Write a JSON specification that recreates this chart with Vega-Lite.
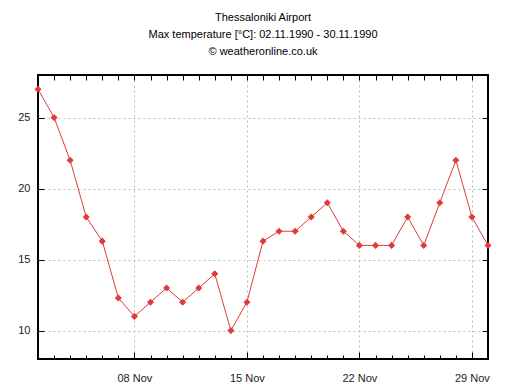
{
  "$schema": "https://vega.github.io/schema/vega-lite/v6.json",
  "autosize": "none",
  "width": 450,
  "height": 284,
  "padding": {"left": 38, "top": 75, "right": 32, "bottom": 31},
  "background": "white",
  "config": {
    "font": "Liberation Sans",
    "view": {"stroke": "#000", "strokeWidth": 2},
    "axis": {"domain": false, "labelFont": "Liberation Sans", "labelFontSize": 11, "labelColor": "#222", "tickColor": "#000", "gridColor": "#bbb", "gridDash": [2, 3], "title": null}
  },
  "title": {
    "text": ["Thessaloniki Airport", "Max temperature [°C]: 02.11.1990 - 30.11.1990", "© weatheronline.co.uk"],
    "fontSize": 11,
    "fontWeight": "normal",
    "font": "Liberation Sans",
    "color": "#000",
    "lineHeight": 17,
    "anchor": "middle",
    "frame": "group",
    "offset": 18
  },
  "data": {
    "values": [
      {"date": "1990-11-02T00:00:00", "temp": 27},
      {"date": "1990-11-03T00:00:00", "temp": 25},
      {"date": "1990-11-04T00:00:00", "temp": 22},
      {"date": "1990-11-05T00:00:00", "temp": 18},
      {"date": "1990-11-06T00:00:00", "temp": 16.3},
      {"date": "1990-11-07T00:00:00", "temp": 12.3},
      {"date": "1990-11-08T00:00:00", "temp": 11},
      {"date": "1990-11-09T00:00:00", "temp": 12},
      {"date": "1990-11-10T00:00:00", "temp": 13},
      {"date": "1990-11-11T00:00:00", "temp": 12},
      {"date": "1990-11-12T00:00:00", "temp": 13},
      {"date": "1990-11-13T00:00:00", "temp": 14},
      {"date": "1990-11-14T00:00:00", "temp": 10},
      {"date": "1990-11-15T00:00:00", "temp": 12},
      {"date": "1990-11-16T00:00:00", "temp": 16.3},
      {"date": "1990-11-17T00:00:00", "temp": 17},
      {"date": "1990-11-18T00:00:00", "temp": 17},
      {"date": "1990-11-19T00:00:00", "temp": 18},
      {"date": "1990-11-20T00:00:00", "temp": 19},
      {"date": "1990-11-21T00:00:00", "temp": 17},
      {"date": "1990-11-22T00:00:00", "temp": 16},
      {"date": "1990-11-23T00:00:00", "temp": 16},
      {"date": "1990-11-24T00:00:00", "temp": 16},
      {"date": "1990-11-25T00:00:00", "temp": 18},
      {"date": "1990-11-26T00:00:00", "temp": 16},
      {"date": "1990-11-27T00:00:00", "temp": 19},
      {"date": "1990-11-28T00:00:00", "temp": 22},
      {"date": "1990-11-29T00:00:00", "temp": 18},
      {"date": "1990-11-30T00:00:00", "temp": 16}
    ]
  },
  "resolve": {"axis": {"x": "independent", "y": "independent"}},
  "layer": [
    {
      "mark": {"type": "line", "color": "#e03a3a", "strokeWidth": 1, "point": {"shape": "diamond", "size": 50, "color": "#e03a3a", "filled": true, "opacity": 1}},
      "encoding": {
        "x": {
          "field": "date", "type": "temporal",
          "scale": {"domain": [{"year": 1990, "month": 11, "date": 2}, {"year": 1990, "month": 11, "date": 30}]},
          "axis": {
            "orient": "bottom",
            "values": [
              {"year": 1990, "month": 11, "date": 2}, {"year": 1990, "month": 11, "date": 3}, {"year": 1990, "month": 11, "date": 4},
              {"year": 1990, "month": 11, "date": 5}, {"year": 1990, "month": 11, "date": 6}, {"year": 1990, "month": 11, "date": 7},
              {"year": 1990, "month": 11, "date": 8}, {"year": 1990, "month": 11, "date": 9}, {"year": 1990, "month": 11, "date": 10},
              {"year": 1990, "month": 11, "date": 11}, {"year": 1990, "month": 11, "date": 12}, {"year": 1990, "month": 11, "date": 13},
              {"year": 1990, "month": 11, "date": 14}, {"year": 1990, "month": 11, "date": 15}, {"year": 1990, "month": 11, "date": 16},
              {"year": 1990, "month": 11, "date": 17}, {"year": 1990, "month": 11, "date": 18}, {"year": 1990, "month": 11, "date": 19},
              {"year": 1990, "month": 11, "date": 20}, {"year": 1990, "month": 11, "date": 21}, {"year": 1990, "month": 11, "date": 22},
              {"year": 1990, "month": 11, "date": 23}, {"year": 1990, "month": 11, "date": 24}, {"year": 1990, "month": 11, "date": 25},
              {"year": 1990, "month": 11, "date": 26}, {"year": 1990, "month": 11, "date": 27}, {"year": 1990, "month": 11, "date": 28},
              {"year": 1990, "month": 11, "date": 29}, {"year": 1990, "month": 11, "date": 30}
            ],
            "labelExpr": "indexof([8,15,22,29], date(datum.value)) >= 0 ? timeFormat(datum.value, '%d %b') : ''",
            "labelOverlap": false,
            "labelFlush": false,
            "grid": true,
            "gridOpacity": {"condition": {"test": "indexof([8,15,22,29], date(datum.value)) >= 0", "value": 1}, "value": 0},
            "tickSize": {"condition": {"test": "indexof([8,15,22,29], date(datum.value)) >= 0", "value": -7}, "value": -4},
            "labelPadding": {"condition": {"test": "indexof([8,15,22,29], date(datum.value)) >= 0", "value": 20}, "value": 17}
          }
        },
        "y": {
          "field": "temp", "type": "quantitative",
          "scale": {"domain": [8, 28], "nice": false, "zero": false},
          "axis": {"orient": "left", "values": [10, 15, 20, 25], "tickSize": -6, "labelPadding": 14, "grid": true}
        }
      }
    },
    {
      "mark": {"type": "line", "opacity": 0},
      "encoding": {
        "x": {
          "field": "date", "type": "temporal",
          "axis": {
            "orient": "top", "labels": false, "grid": false, "tickSize": -5,
            "values": [
              {"year": 1990, "month": 11, "date": 3}, {"year": 1990, "month": 11, "date": 4},
              {"year": 1990, "month": 11, "date": 5}, {"year": 1990, "month": 11, "date": 6}, {"year": 1990, "month": 11, "date": 7},
              {"year": 1990, "month": 11, "date": 8}, {"year": 1990, "month": 11, "date": 9}, {"year": 1990, "month": 11, "date": 10},
              {"year": 1990, "month": 11, "date": 11}, {"year": 1990, "month": 11, "date": 12}, {"year": 1990, "month": 11, "date": 13},
              {"year": 1990, "month": 11, "date": 14}, {"year": 1990, "month": 11, "date": 15}, {"year": 1990, "month": 11, "date": 16},
              {"year": 1990, "month": 11, "date": 17}, {"year": 1990, "month": 11, "date": 18}, {"year": 1990, "month": 11, "date": 19},
              {"year": 1990, "month": 11, "date": 20}, {"year": 1990, "month": 11, "date": 21}, {"year": 1990, "month": 11, "date": 22},
              {"year": 1990, "month": 11, "date": 23}, {"year": 1990, "month": 11, "date": 24}, {"year": 1990, "month": 11, "date": 25},
              {"year": 1990, "month": 11, "date": 26}, {"year": 1990, "month": 11, "date": 27}, {"year": 1990, "month": 11, "date": 28},
              {"year": 1990, "month": 11, "date": 29}
            ]
          }
        },
        "y": {
          "field": "temp", "type": "quantitative",
          "axis": {"orient": "right", "labels": false, "grid": false, "tickSize": -6, "values": [10, 15, 20, 25]}
        }
      }
    }
  ]
}
